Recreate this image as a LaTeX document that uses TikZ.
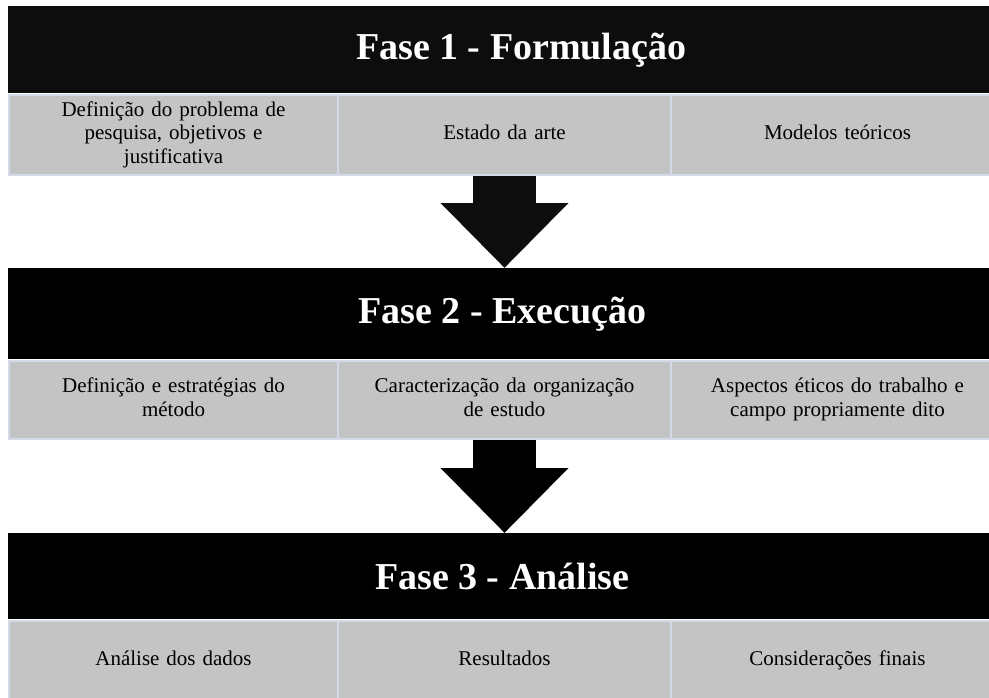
\documentclass[tikz,border=0pt]{standalone}
\usepackage{fontspec}
\setmainfont{Liberation Serif}
\usepackage{tikz}
\usetikzlibrary{arrows.meta}
\definecolor{barra}{HTML}{0D0D0D}
\definecolor{celula}{HTML}{C4C4C4}
\definecolor{borda}{HTML}{D5DBE6}

\begin{document}
\begin{tikzpicture}[x=1pt, y=-1pt,
    fase/.style={anchor=north west, inner sep=0pt, minimum height=87pt,
      text=white, font=\bfseries\fontsize{38}{46}\selectfont},
    etapa/.style={anchor=north west, inner sep=0pt, fill=celula, draw=borda,
      line width=2pt, minimum width=333pt, text width=310pt, align=center,
      font=\fontsize{21}{23.5}\selectfont,
      execute at begin node=\strut, execute at end node=\strut},
    seta/.style={line width=63pt, -{Triangle[width=124pt,length=65pt]}}]
        \useasboundingbox (0,0) rectangle (989,697);
        \clip (0,0) rectangle (989,697);

        % Primeira fase
        \node[fase, fill=barra, minimum width=1026pt] (fase1) at (8,6) {Fase 1 - Formula\c{c}\~ao};
        \node[etapa, minimum width=329pt, minimum height=80pt] (c11) at (8,94) {Defini\c{c}\~ao do problema de\\pesquisa, objetivos e\\justificativa};
        \node[etapa, minimum height=80pt] (c12) at (337,94) {Estado da arte};
        \node[etapa, minimum height=80pt] (c13) at (670,94) {Modelos te\'oricos};

        % Segunda fase
        \node[fase, fill=black, minimum width=988pt, minimum height=91pt] (fase2) at (8,268) {Fase 2 - Execu\c{c}\~ao};
        \node[etapa, minimum width=329pt, minimum height=78pt] (c21) at (8,360) {Defini\c{c}\~ao e estrat\'egias do\\m\'etodo};
        \node[etapa, minimum height=78pt] (c22) at (337,360) {Caracteriza\c{c}\~ao da organiza\c{c}\~ao\\de estudo};
        \node[etapa, minimum height=78pt] (c23) at (670,360) {Aspectos \'eticos do trabalho e\\campo propriamente dito};

        % Terceira fase
        \node[fase, fill=black, minimum width=988pt, minimum height=86pt] (fase3) at (8,533) {Fase 3 - An\'alise};
        \node[etapa, minimum width=329pt, minimum height=80pt] (c31) at (8,620) {An\'alise dos dados};
        \node[etapa, minimum height=80pt] (c32) at (337,620) {Resultados};
        \node[etapa, minimum height=80pt] (c33) at (670,620) {Considera\c{c}\~oes finais};

        \draw[seta, barra] (c12.south) -- (c12.south |- fase2.north);
        \draw[seta, black] (c22.south) -- (c22.south |- fase3.north);
    \end{tikzpicture}
\end{document}
